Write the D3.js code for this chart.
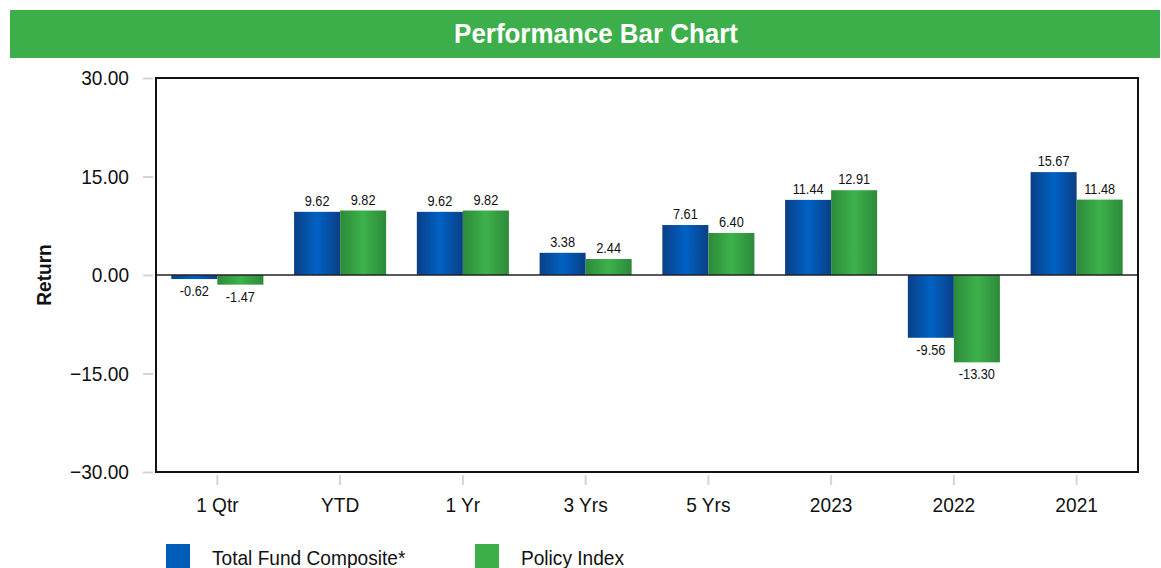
<!DOCTYPE html>
<html>
<head>
<meta charset="utf-8">
<script src="https://cdn.jsdelivr.net/npm/d3@7"></script>
<style>
  body { margin: 0; background: #fff; }
  svg text { font-family: "Liberation Sans", Arial, sans-serif; }
</style>
</head>
<body>
<div id="chart"></div>
<script>
var categories = ["1 Qtr", "YTD", "1 Yr", "3 Yrs", "5 Yrs", "2023", "2022", "2021"];
var seriesNames = ["Total Fund Composite*", "Policy Index"];
var fundValues = [-0.62, 9.62, 9.62, 3.38, 7.61, 11.44, -9.56, 15.67];
var policyValues = [-1.47, 9.82, 9.82, 2.44, 6.40, 12.91, -13.30, 11.48];
var yTicks = [-30, -15, 0, 15, 30];

var svgWidth = 1161;
var svgHeight = 568;

var margin = { top: 78, right: 23, bottom: 96, left: 156 };
var width = svgWidth - margin.left - margin.right;
var height = svgHeight - margin.top - margin.bottom;

var svg = d3.select("#chart")
  .append("svg")
  .attr("width", svgWidth)
  .attr("height", svgHeight);

// gradients for the bars
var defs = svg.append("defs");
function addGrad(id, edge, mid) {
  var g = defs.append("linearGradient").attr("id", id)
    .attr("x1", "0%").attr("x2", "100%").attr("y1", "0%").attr("y2", "0%");
  g.append("stop").attr("offset", "0%").attr("stop-color", edge);
  g.append("stop").attr("offset", "50%").attr("stop-color", mid);
  g.append("stop").attr("offset", "100%").attr("stop-color", edge);
}
addGrad("gradBlue", "#0b3f86", "#0062c4");
addGrad("gradGreen", "#2d8a3a", "#3db24b");
var fills = ["url(#gradBlue)", "url(#gradGreen)"];
var legendColors = ["#005cb9", "#3daf4a"];

// title bar
svg.append("rect")
  .attr("x", 10).attr("y", 10)
  .attr("width", svgWidth - 11).attr("height", 48)
  .attr("fill", "#3daf4a");

svg.append("text")
  .attr("class", "title")
  .attr("x", 596).attr("y", 43)
  .attr("text-anchor", "middle")
  .attr("fill", "#fff")
  .attr("font-size", "27px")
  .attr("font-weight", "bold")
  .text("Performance Bar Chart");

var chartGroup = svg.append("g")
  .attr("transform", `translate(${margin.left}, ${margin.top})`);

var xScale = d3.scaleBand()
  .domain(categories)
  .range([0, width])
  .paddingInner(0.25)
  .paddingOuter(0.125);

var xSub = d3.scaleBand()
  .domain([0, 1])
  .range([0, xScale.bandwidth()]);

var yScale = d3.scaleLinear()
  .domain([-30, 30])
  .range([height, 0]);

// y axis
var leftAxis = d3.axisLeft(yScale)
  .tickValues(yTicks)
  .tickFormat(d3.format(".2f"))
  .tickSize(10)
  .tickPadding(14);

var yAxisG = chartGroup.append("g")
  .attr("transform", "translate(-3,0)")
  .call(leftAxis);
yAxisG.select(".domain").remove();
yAxisG.selectAll("line").attr("stroke", "#d4d4d4").attr("stroke-width", 2);
yAxisG.selectAll("text").attr("font-size", "21px").attr("fill", "#111");

// x axis
var bottomAxis = d3.axisBottom(xScale)
  .tickSize(10)
  .tickPadding(12);

var xAxisG = chartGroup.append("g")
  .attr("transform", `translate(0, ${height + 3})`)
  .call(bottomAxis);
xAxisG.select(".domain").remove();
xAxisG.selectAll("line").attr("stroke", "#d4d4d4").attr("stroke-width", 2);
xAxisG.selectAll("text").attr("font-size", "21px").attr("fill", "#111");

// bars
var rows = categories.map(function(c, i) {
  return { cat: c, values: [fundValues[i], policyValues[i]] };
});

var groups = chartGroup.selectAll(".grp")
  .data(rows)
  .enter()
  .append("g")
  .attr("class", "grp")
  .attr("transform", d => `translate(${xScale(d.cat)},0)`);

groups.selectAll("rect")
  .data(d => d.values.map((v, k) => ({ v: v, k: k })))
  .enter()
  .append("rect")
  .attr("x", d => xSub(d.k))
  .attr("width", xSub.bandwidth())
  .attr("y", d => yScale(Math.max(0, d.v)))
  .attr("height", d => Math.abs(yScale(d.v) - yScale(0)))
  .attr("fill", d => fills[d.k]);

groups.selectAll("text")
  .data(d => d.values.map((v, k) => ({ v: v, k: k })))
  .enter()
  .append("text")
  .attr("x", d => xSub(d.k) + xSub.bandwidth() / 2)
  .attr("y", d => d.v >= 0 ? yScale(d.v) - 6 : yScale(d.v) + 17)
  .attr("text-anchor", "middle")
  .attr("font-size", "14px")
  .attr("fill", "#111")
  .text(d => d.v.toFixed(2));

// zero line
chartGroup.append("line")
  .attr("x1", 0).attr("x2", width)
  .attr("y1", yScale(0)).attr("y2", yScale(0))
  .attr("stroke", "#222")
  .attr("stroke-width", 1.5);

// frame
chartGroup.append("rect")
  .attr("x", 0).attr("y", 0)
  .attr("width", width).attr("height", height)
  .attr("fill", "none")
  .attr("stroke", "#111")
  .attr("stroke-width", 2);

// y title
svg.append("text")
  .attr("transform", `translate(51, ${margin.top + yScale(0)}) rotate(-90)`)
  .attr("text-anchor", "middle")
  .attr("font-size", "21px")
  .attr("font-weight", "bold")
  .attr("fill", "#111")
  .text("Return");

// legend
var legendX = [166, 475];
var legend = svg.selectAll(".leg")
  .data(seriesNames)
  .enter()
  .append("g")
  .attr("class", "leg")
  .attr("transform", (d, i) => `translate(${legendX[i]}, 544)`);

legend.append("rect")
  .attr("width", 24).attr("height", 24)
  .attr("fill", (d, i) => legendColors[i]);

legend.append("text")
  .attr("x", 46).attr("y", 21)
  .attr("font-size", "21px")
  .attr("fill", "#111")
  .text(d => d);

// the original uses a narrow face, so squeeze text horizontally
svg.selectAll("text").each(function() {
  var f = d3.select(this).classed("title") ? 0.96 : 0.91;
  var len = this.getComputedTextLength();
  d3.select(this)
    .attr("textLength", len * f)
    .attr("lengthAdjust", "spacingAndGlyphs");
});
</script>
</body>
</html>
